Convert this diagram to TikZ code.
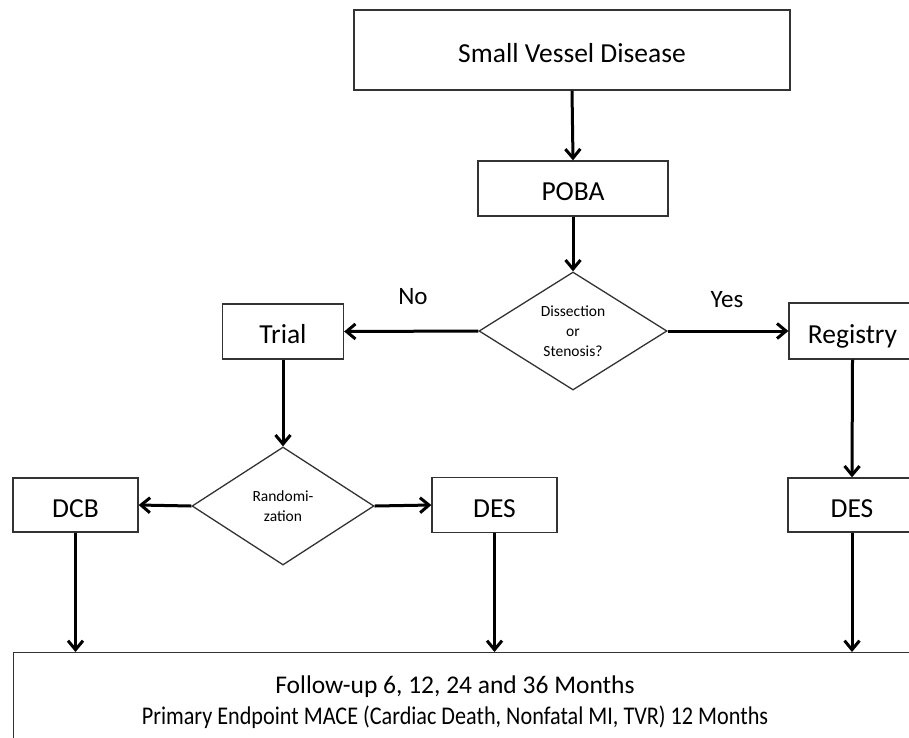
\documentclass[tikz,border=0pt]{standalone}
\usepackage{graphicx}
\usepackage{fontspec}
\setmainfont{Carlito}
\usetikzlibrary{shapes.geometric,arrows.meta}
\begin{document}
\begin{tikzpicture}[x=1pt,y=-1pt,
  box/.style={draw=black!80, line width=1.3pt, rectangle, inner sep=0pt, fill=white,
    font=\fontsize{27.5}{30}\selectfont, text height=24pt, text depth=0pt},
  dec/.style={draw=black!80, line width=1.3pt, diamond, inner sep=0pt, fill=white,
    align=center, font=\fontsize{15.5}{20}\selectfont},
  arr/.style={line width=3pt, -{Straight Barb[length=9pt,width=15pt]}},
  lbl/.style={font=\fontsize{25}{30}\selectfont, inner sep=0pt},
  foot/.style={font=\fontsize{25.5}{30}\selectfont, inner sep=0pt, anchor=base}]
\useasboundingbox (0,0) rectangle (909,737);
\clip (0,0) rectangle (909,737);
\fill[white] (0,0) rectangle (909,737);
% nodes
\node[box, minimum width=436pt, minimum height=80pt] (svd) at (572,50) {Small Vessel Disease};
\node[box, minimum width=190pt, minimum height=55pt] (poba) at (573,188.5) {POBA};
\node[dec, minimum width=188pt, minimum height=118pt] (dis) at (573,331) {Dissection\\or\\Stenosis?};
\node[box, minimum width=121pt, minimum height=55pt] (trial) at (283,331.5) {Trial};
\node[box, minimum width=127pt, minimum height=56pt] (reg) at (852.5,331) {Registry};
\node[dec, minimum width=182pt, minimum height=118pt] (rand) at (283,506) {Randomi-\\zation};
\node[box, minimum width=125pt, minimum height=54pt] (dcb) at (75.5,505) {DCB};
\node[box, minimum width=125pt, minimum height=55pt] (desm) at (494.5,505) {DES};
\node[box, minimum width=128pt, minimum height=54pt] (desr) at (852,505) {DES};
\node[draw=black!80, line width=1.3pt, rectangle, inner sep=0pt, minimum width=920pt, minimum height=120pt, anchor=north west] (fol) at (13,652) {};
\node[foot] (fu1) at (455,693) {Follow-up 6, 12, 24 and 36 Months};
\node[foot] (fu2) at (455,724) {\scalebox{0.87}[1]{Primary Endpoint MACE (Cardiac Death, Nonfatal MI, TVR) 12 Months}};
\node[lbl] (no) at (413,297) {No};
\node[lbl] (yes) at (727,300) {Yes};
% connectors
\draw[arr] (svd.south) -- (poba.north);
\draw[arr] (poba.south) -- (dis.north);
\draw[arr] (dis.west) -- (trial.east);
\draw[arr] (dis.east) -- (reg.west);
\draw[arr] (trial.south) -- (rand.north);
\draw[arr] (rand.west) -- (dcb.east);
\draw[arr] (rand.east) -- (desm.east -| desm.west);
\draw[arr] (reg.south) -- (desr.north);
\draw[arr] (dcb.south) -- (dcb.south |- fol.north);
\draw[arr] (desm.south) -- (desm.south |- fol.north);
\draw[arr] (desr.south) -- (desr.south |- fol.north);
\end{tikzpicture}
\end{document}
